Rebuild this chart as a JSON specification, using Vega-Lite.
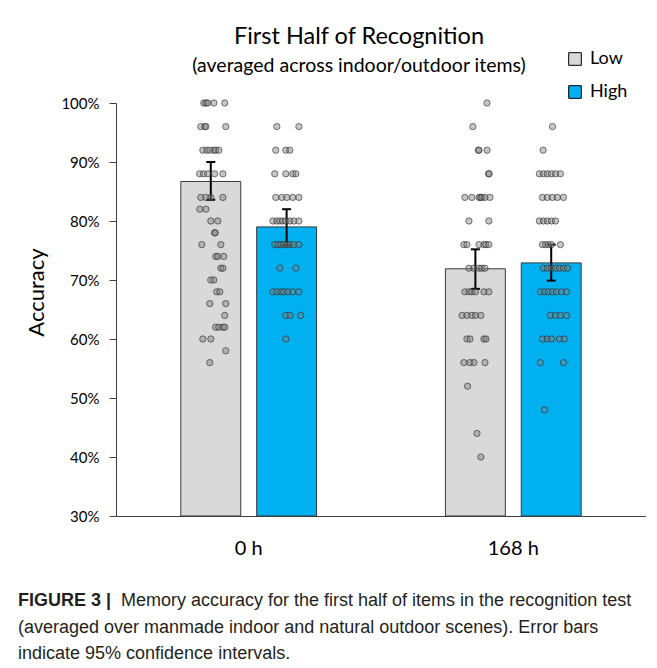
{
  "$schema": "https://vega.github.io/schema/vega-lite/v6.json",
  "background": "white",
  "padding": {"left": 8, "top": 25, "right": 0, "bottom": 0},
  "config": {"view": {"stroke": null}, "font": "Lato", "concat": {"spacing": -3}},
  "datasets": {
    "summary": [
      {"time": "0 h", "group": "Low", "mean": 0.867, "lo": 0.836, "hi": 0.9},
      {"time": "0 h", "group": "High", "mean": 0.79, "lo": 0.759, "hi": 0.82},
      {"time": "168 h", "group": "Low", "mean": 0.719, "lo": 0.685, "hi": 0.752},
      {"time": "168 h", "group": "High", "mean": 0.729, "lo": 0.699, "hi": 0.76}
    ],
    "ptsLow": [
      {"time": "0 h", "acc": 1.0, "jitter": -0.41}, {"time": "0 h", "acc": 1.0, "jitter": -0.29}, {"time": "0 h", "acc": 1.0, "jitter": -0.18}, {"time": "0 h", "acc": 1.0, "jitter": 0.18}, {"time": "0 h", "acc": 1.0, "jitter": 0.82},
      {"time": "0 h", "acc": 0.96, "jitter": -0.59}, {"time": "0 h", "acc": 0.96, "jitter": -0.35}, {"time": "0 h", "acc": 0.96, "jitter": -0.29}, {"time": "0 h", "acc": 0.96, "jitter": 0.88},
      {"time": "0 h", "acc": 0.92, "jitter": -0.47}, {"time": "0 h", "acc": 0.92, "jitter": -0.24}, {"time": "0 h", "acc": 0.92, "jitter": -0.06}, {"time": "0 h", "acc": 0.92, "jitter": 0.18}, {"time": "0 h", "acc": 0.92, "jitter": 0.29}, {"time": "0 h", "acc": 0.92, "jitter": 0.47},
      {"time": "0 h", "acc": 0.88, "jitter": -0.66}, {"time": "0 h", "acc": 0.88, "jitter": -0.43}, {"time": "0 h", "acc": 0.88, "jitter": -0.18}, {"time": "0 h", "acc": 0.88, "jitter": 0.22}, {"time": "0 h", "acc": 0.88, "jitter": 0.71},
      {"time": "0 h", "acc": 0.84, "jitter": -0.59}, {"time": "0 h", "acc": 0.84, "jitter": -0.29}, {"time": "0 h", "acc": 0.84, "jitter": 0.0}, {"time": "0 h", "acc": 0.84, "jitter": 0.71},
      {"time": "0 h", "acc": 0.82, "jitter": -0.65}, {"time": "0 h", "acc": 0.82, "jitter": -0.29},
      {"time": "0 h", "acc": 0.8, "jitter": 0.0}, {"time": "0 h", "acc": 0.8, "jitter": 0.41},
      {"time": "0 h", "acc": 0.78, "jitter": 0.22}, {"time": "0 h", "acc": 0.78, "jitter": 0.26},
      {"time": "0 h", "acc": 0.76, "jitter": -0.53}, {"time": "0 h", "acc": 0.76, "jitter": 0.59},
      {"time": "0 h", "acc": 0.74, "jitter": 0.29}, {"time": "0 h", "acc": 0.74, "jitter": 0.41}, {"time": "0 h", "acc": 0.74, "jitter": 0.76},
      {"time": "0 h", "acc": 0.72, "jitter": 0.59}, {"time": "0 h", "acc": 0.72, "jitter": 0.71},
      {"time": "0 h", "acc": 0.7, "jitter": 0.0}, {"time": "0 h", "acc": 0.7, "jitter": 0.18},
      {"time": "0 h", "acc": 0.68, "jitter": 0.35}, {"time": "0 h", "acc": 0.68, "jitter": 0.53},
      {"time": "0 h", "acc": 0.66, "jitter": -0.06}, {"time": "0 h", "acc": 0.66, "jitter": 0.88},
      {"time": "0 h", "acc": 0.64, "jitter": 0.82},
      {"time": "0 h", "acc": 0.62, "jitter": 0.29}, {"time": "0 h", "acc": 0.62, "jitter": 0.47}, {"time": "0 h", "acc": 0.62, "jitter": 0.71}, {"time": "0 h", "acc": 0.62, "jitter": 0.82},
      {"time": "0 h", "acc": 0.6, "jitter": -0.47}, {"time": "0 h", "acc": 0.6, "jitter": 0.0},
      {"time": "0 h", "acc": 0.58, "jitter": 0.88},
      {"time": "0 h", "acc": 0.56, "jitter": -0.06},
      {"time": "168 h", "acc": 1.0, "jitter": 0.68},
      {"time": "168 h", "acc": 0.96, "jitter": -0.15},
      {"time": "168 h", "acc": 0.92, "jitter": 0.17}, {"time": "168 h", "acc": 0.92, "jitter": 0.21}, {"time": "168 h", "acc": 0.92, "jitter": 0.68},
      {"time": "168 h", "acc": 0.88, "jitter": 0.77}, {"time": "168 h", "acc": 0.88, "jitter": 0.81},
      {"time": "168 h", "acc": 0.84, "jitter": -0.62}, {"time": "168 h", "acc": 0.84, "jitter": -0.21}, {"time": "168 h", "acc": 0.84, "jitter": 0.21}, {"time": "168 h", "acc": 0.84, "jitter": 0.3}, {"time": "168 h", "acc": 0.84, "jitter": 0.38}, {"time": "168 h", "acc": 0.84, "jitter": 0.56}, {"time": "168 h", "acc": 0.84, "jitter": 0.85},
      {"time": "168 h", "acc": 0.8, "jitter": -0.38}, {"time": "168 h", "acc": 0.8, "jitter": 0.79},
      {"time": "168 h", "acc": 0.76, "jitter": -0.68}, {"time": "168 h", "acc": 0.76, "jitter": -0.5}, {"time": "168 h", "acc": 0.76, "jitter": 0.21}, {"time": "168 h", "acc": 0.76, "jitter": 0.5}, {"time": "168 h", "acc": 0.76, "jitter": 0.62}, {"time": "168 h", "acc": 0.76, "jitter": 0.79},
      {"time": "168 h", "acc": 0.72, "jitter": -0.38}, {"time": "168 h", "acc": 0.72, "jitter": -0.09}, {"time": "168 h", "acc": 0.72, "jitter": 0.21}, {"time": "168 h", "acc": 0.72, "jitter": 0.38}, {"time": "168 h", "acc": 0.72, "jitter": 0.56},
      {"time": "168 h", "acc": 0.68, "jitter": -0.62}, {"time": "168 h", "acc": 0.68, "jitter": -0.38}, {"time": "168 h", "acc": 0.68, "jitter": -0.21}, {"time": "168 h", "acc": 0.68, "jitter": 0.0}, {"time": "168 h", "acc": 0.68, "jitter": 0.5}, {"time": "168 h", "acc": 0.68, "jitter": 0.79},
      {"time": "168 h", "acc": 0.64, "jitter": -0.79}, {"time": "168 h", "acc": 0.64, "jitter": -0.5}, {"time": "168 h", "acc": 0.64, "jitter": -0.21}, {"time": "168 h", "acc": 0.64, "jitter": 0.0}, {"time": "168 h", "acc": 0.64, "jitter": 0.32},
      {"time": "168 h", "acc": 0.6, "jitter": -0.5}, {"time": "168 h", "acc": 0.6, "jitter": -0.32}, {"time": "168 h", "acc": 0.6, "jitter": 0.5}, {"time": "168 h", "acc": 0.6, "jitter": 0.62},
      {"time": "168 h", "acc": 0.56, "jitter": -0.68}, {"time": "168 h", "acc": 0.56, "jitter": -0.32}, {"time": "168 h", "acc": 0.56, "jitter": -0.09}, {"time": "168 h", "acc": 0.56, "jitter": 0.56},
      {"time": "168 h", "acc": 0.52, "jitter": -0.46},
      {"time": "168 h", "acc": 0.44, "jitter": 0.09},
      {"time": "168 h", "acc": 0.4, "jitter": 0.32}
    ],
    "ptsHigh": [
      {"time": "0 h", "acc": 0.96, "jitter": -0.59}, {"time": "0 h", "acc": 0.96, "jitter": 0.71},
      {"time": "0 h", "acc": 0.92, "jitter": -0.65}, {"time": "0 h", "acc": 0.92, "jitter": -0.06}, {"time": "0 h", "acc": 0.92, "jitter": 0.18},
      {"time": "0 h", "acc": 0.88, "jitter": -0.71}, {"time": "0 h", "acc": 0.88, "jitter": -0.06}, {"time": "0 h", "acc": 0.88, "jitter": 0.35}, {"time": "0 h", "acc": 0.88, "jitter": 0.53},
      {"time": "0 h", "acc": 0.84, "jitter": -0.65}, {"time": "0 h", "acc": 0.84, "jitter": -0.29}, {"time": "0 h", "acc": 0.84, "jitter": 0.0}, {"time": "0 h", "acc": 0.84, "jitter": 0.35}, {"time": "0 h", "acc": 0.84, "jitter": 0.71},
      {"time": "0 h", "acc": 0.8, "jitter": -0.82}, {"time": "0 h", "acc": 0.8, "jitter": -0.59}, {"time": "0 h", "acc": 0.8, "jitter": -0.41}, {"time": "0 h", "acc": 0.8, "jitter": -0.24}, {"time": "0 h", "acc": 0.8, "jitter": -0.06}, {"time": "0 h", "acc": 0.8, "jitter": 0.18}, {"time": "0 h", "acc": 0.8, "jitter": 0.41}, {"time": "0 h", "acc": 0.8, "jitter": 0.71},
      {"time": "0 h", "acc": 0.76, "jitter": -0.71}, {"time": "0 h", "acc": 0.76, "jitter": -0.53}, {"time": "0 h", "acc": 0.76, "jitter": -0.35}, {"time": "0 h", "acc": 0.76, "jitter": -0.18}, {"time": "0 h", "acc": 0.76, "jitter": 0.0}, {"time": "0 h", "acc": 0.76, "jitter": 0.18}, {"time": "0 h", "acc": 0.76, "jitter": 0.41}, {"time": "0 h", "acc": 0.76, "jitter": 0.71},
      {"time": "0 h", "acc": 0.72, "jitter": -0.41}, {"time": "0 h", "acc": 0.72, "jitter": 0.53},
      {"time": "0 h", "acc": 0.68, "jitter": -0.82}, {"time": "0 h", "acc": 0.68, "jitter": -0.59}, {"time": "0 h", "acc": 0.68, "jitter": -0.35}, {"time": "0 h", "acc": 0.68, "jitter": -0.18}, {"time": "0 h", "acc": 0.68, "jitter": 0.06}, {"time": "0 h", "acc": 0.68, "jitter": 0.35}, {"time": "0 h", "acc": 0.68, "jitter": 0.71},
      {"time": "0 h", "acc": 0.64, "jitter": -0.06}, {"time": "0 h", "acc": 0.64, "jitter": 0.18}, {"time": "0 h", "acc": 0.64, "jitter": 0.82},
      {"time": "0 h", "acc": 0.6, "jitter": -0.06},
      {"time": "168 h", "acc": 0.96, "jitter": 0.06},
      {"time": "168 h", "acc": 0.92, "jitter": -0.49},
      {"time": "168 h", "acc": 0.88, "jitter": -0.71}, {"time": "168 h", "acc": 0.88, "jitter": -0.47}, {"time": "168 h", "acc": 0.88, "jitter": -0.24}, {"time": "168 h", "acc": 0.88, "jitter": 0.0}, {"time": "168 h", "acc": 0.88, "jitter": 0.24}, {"time": "168 h", "acc": 0.88, "jitter": 0.53},
      {"time": "168 h", "acc": 0.84, "jitter": -0.53}, {"time": "168 h", "acc": 0.84, "jitter": -0.24}, {"time": "168 h", "acc": 0.84, "jitter": 0.06}, {"time": "168 h", "acc": 0.84, "jitter": 0.35}, {"time": "168 h", "acc": 0.84, "jitter": 0.71},
      {"time": "168 h", "acc": 0.8, "jitter": -0.71}, {"time": "168 h", "acc": 0.8, "jitter": -0.47}, {"time": "168 h", "acc": 0.8, "jitter": -0.24}, {"time": "168 h", "acc": 0.8, "jitter": 0.0}, {"time": "168 h", "acc": 0.8, "jitter": 0.24},
      {"time": "168 h", "acc": 0.76, "jitter": -0.53}, {"time": "168 h", "acc": 0.76, "jitter": -0.35}, {"time": "168 h", "acc": 0.76, "jitter": -0.18}, {"time": "168 h", "acc": 0.76, "jitter": 0.0}, {"time": "168 h", "acc": 0.76, "jitter": 0.53},
      {"time": "168 h", "acc": 0.72, "jitter": -0.47}, {"time": "168 h", "acc": 0.72, "jitter": -0.24}, {"time": "168 h", "acc": 0.72, "jitter": 0.0}, {"time": "168 h", "acc": 0.72, "jitter": 0.24}, {"time": "168 h", "acc": 0.72, "jitter": 0.47}, {"time": "168 h", "acc": 0.72, "jitter": 0.71}, {"time": "168 h", "acc": 0.72, "jitter": 0.94},
      {"time": "168 h", "acc": 0.68, "jitter": -0.65}, {"time": "168 h", "acc": 0.68, "jitter": -0.41}, {"time": "168 h", "acc": 0.68, "jitter": -0.18}, {"time": "168 h", "acc": 0.68, "jitter": 0.06}, {"time": "168 h", "acc": 0.68, "jitter": 0.29}, {"time": "168 h", "acc": 0.68, "jitter": 0.59}, {"time": "168 h", "acc": 0.68, "jitter": 0.88},
      {"time": "168 h", "acc": 0.64, "jitter": -0.06}, {"time": "168 h", "acc": 0.64, "jitter": 0.24}, {"time": "168 h", "acc": 0.64, "jitter": 0.53}, {"time": "168 h", "acc": 0.64, "jitter": 0.88},
      {"time": "168 h", "acc": 0.6, "jitter": -0.53}, {"time": "168 h", "acc": 0.6, "jitter": -0.24}, {"time": "168 h", "acc": 0.6, "jitter": 0.0}, {"time": "168 h", "acc": 0.6, "jitter": 0.47}, {"time": "168 h", "acc": 0.6, "jitter": 0.76},
      {"time": "168 h", "acc": 0.56, "jitter": -0.65}, {"time": "168 h", "acc": 0.56, "jitter": 0.71},
      {"time": "168 h", "acc": 0.48, "jitter": -0.41}
    ],
    "caption": [
      {"line": 1, "part": "head", "text": "FIGURE 3 |"},
      {"line": 1, "part": "body", "text": "Memory accuracy for the first half of items in the recognition test"},
      {"line": 2, "part": "body", "text": "(averaged over manmade indoor and natural outdoor scenes). Error bars"},
      {"line": 3, "part": "body", "text": "indicate 95% confidence intervals."}
    ]
  },
  "vconcat": [
    {
      "width": 530,
      "height": 413,
      "title": {
        "text": "First Half of Recognition",
        "subtitle": "(averaged across indoor/outdoor items)",
        "font": "Lato", "subtitleFont": "Lato",
        "fontSize": 23.5, "fontWeight": "normal", "subtitleFontSize": 19.5,
        "color": "#000000", "subtitleColor": "#000000",
        "anchor": "middle", "frame": "group", "dx": -22, "offset": 21, "subtitlePadding": 8
      },
      "resolve": {"scale": {"xOffset": "independent"}},
      "layer": [
        {
          "data": {"name": "summary"},
          "layer": [
            {
              "mark": {"type": "bar", "stroke": "#3a3a3a", "strokeWidth": 1},
              "encoding": {
                "x": {"field": "time", "type": "nominal", "sort": ["0 h", "168 h"], "title": null,
                  "scale": {"paddingInner": 0.487, "paddingOuter": 0.245},
                  "axis": {"labelAngle": 0, "labelFontSize": 20, "labelColor": "#000000", "ticks": false, "labelPadding": 22, "domainColor": "#3f3f3f", "labelFont": "Lato"}},
                "xOffset": {"field": "group", "type": "nominal", "sort": ["Low", "High"], "scale": {"paddingInner": 0.21, "paddingOuter": 0}},
                "y": {"field": "mean", "type": "quantitative", "title": [" ", "Accuracy"],
                  "scale": {"domain": [0.3, 1.0], "nice": false, "zero": false},
                  "axis": {"format": ".0%", "values": [0.3, 0.4, 0.5, 0.6, 0.7, 0.8, 0.9, 1.0], "grid": false, "tickSize": 7, "labelPadding": 10, "labelFontSize": 15, "labelColor": "#000000", "domainColor": "#3f3f3f", "tickColor": "#3f3f3f", "titleFontSize": 22, "titleFontWeight": "normal", "titleColor": "#000000", "titlePadding": 12, "titleLineHeight": 17, "titleY": 189, "labelFont": "Lato", "titleFont": "Lato"}},
                "y2": {"datum": 0.3},
                "color": {"field": "group", "type": "nominal", "sort": ["Low", "High"],
                  "scale": {"domain": ["Low", "High"], "range": ["#d9d9d9", "#00b0f0"]},
                  "legend": {"title": null, "orient": "none", "legendX": 450, "legendY": -53, "symbolType": "square", "symbolSize": 160, "symbolStrokeColor": "#000000", "symbolStrokeWidth": 1, "symbolOpacity": 1, "labelFontSize": 18, "labelColor": "#000000", "rowPadding": 15, "labelFont": "Lato", "labelOffset": 6}}
              }
            },
            {
              "mark": {"type": "rule", "strokeWidth": 2, "color": "#000000"},
              "encoding": {
                "x": {"field": "time", "type": "nominal", "sort": ["0 h", "168 h"]},
                "xOffset": {"field": "group", "type": "nominal", "sort": ["Low", "High"]},
                "y": {"field": "lo", "type": "quantitative", "title": [" ", "Accuracy"]},
                "y2": {"field": "hi"}
              }
            },
            {
              "mark": {"type": "tick", "thickness": 2, "size": 9, "color": "#000000", "opacity": 1},
              "encoding": {
                "x": {"field": "time", "type": "nominal", "sort": ["0 h", "168 h"]},
                "xOffset": {"field": "group", "type": "nominal", "sort": ["Low", "High"]},
                "y": {"field": "lo", "type": "quantitative", "title": [" ", "Accuracy"]}
              }
            },
            {
              "mark": {"type": "tick", "thickness": 2, "size": 9, "color": "#000000", "opacity": 1},
              "encoding": {
                "x": {"field": "time", "type": "nominal", "sort": ["0 h", "168 h"]},
                "xOffset": {"field": "group", "type": "nominal", "sort": ["Low", "High"]},
                "y": {"field": "hi", "type": "quantitative", "title": [" ", "Accuracy"]}
              }
            }
          ]
        },
        {
          "data": {"name": "ptsLow"},
          "mark": {"type": "circle", "size": 40, "fill": "#808080", "fillOpacity": 0.45, "stroke": "#262626", "strokeOpacity": 0.6, "strokeWidth": 1},
          "encoding": {
            "x": {"field": "time", "type": "nominal", "sort": ["0 h", "168 h"]},
            "xOffset": {"field": "jitter", "type": "quantitative", "scale": {"domain": [-1, 1], "range": [13, 47]}},
            "y": {"field": "acc", "type": "quantitative", "title": [" ", "Accuracy"]}
          }
        },
        {
          "data": {"name": "ptsHigh"},
          "mark": {"type": "circle", "size": 40, "fill": "#808080", "fillOpacity": 0.45, "stroke": "#262626", "strokeOpacity": 0.6, "strokeWidth": 1},
          "encoding": {
            "x": {"field": "time", "type": "nominal", "sort": ["0 h", "168 h"]},
            "xOffset": {"field": "jitter", "type": "quantitative", "scale": {"domain": [-1, 1], "range": [89, 123]}},
            "y": {"field": "acc", "type": "quantitative", "title": [" ", "Accuracy"]}
          }
        }
      ]
    },
    {
      "width": 530,
      "height": 110,
      "data": {"name": "caption"},
      "layer": [
        {
          "transform": [{"filter": "datum.part === 'head'"}],
          "mark": {"type": "text", "align": "left", "baseline": "middle", "font": "Liberation Sans", "fontWeight": "bold", "fontSize": 18, "color": "#231f20", "dx": -98},
          "encoding": {
            "x": {"datum": 0, "type": "quantitative", "scale": {"domain": [0, 1]}, "axis": null},
            "y": {"field": "line", "type": "quantitative", "scale": {"domain": [-0.623, 3.525], "reverse": true}, "axis": null},
            "text": {"field": "text"}
          }
        },
        {
          "transform": [{"filter": "datum.part === 'body' && datum.line === 1"}],
          "mark": {"type": "text", "align": "left", "baseline": "middle", "font": "Liberation Sans", "fontSize": 18, "color": "#231f20", "dx": 5},
          "encoding": {
            "x": {"datum": 0, "type": "quantitative", "scale": {"domain": [0, 1]}, "axis": null},
            "y": {"field": "line", "type": "quantitative", "scale": {"domain": [-0.623, 3.525], "reverse": true}, "axis": null},
            "text": {"field": "text"}
          }
        },
        {
          "transform": [{"filter": "datum.part === 'body' && datum.line > 1"}],
          "mark": {"type": "text", "align": "left", "baseline": "middle", "font": "Liberation Sans", "fontSize": 18, "color": "#231f20", "dx": -98},
          "encoding": {
            "x": {"datum": 0, "type": "quantitative", "scale": {"domain": [0, 1]}, "axis": null},
            "y": {"field": "line", "type": "quantitative", "scale": {"domain": [-0.623, 3.525], "reverse": true}, "axis": null},
            "text": {"field": "text"}
          }
        }
      ]
    }
  ]
}
